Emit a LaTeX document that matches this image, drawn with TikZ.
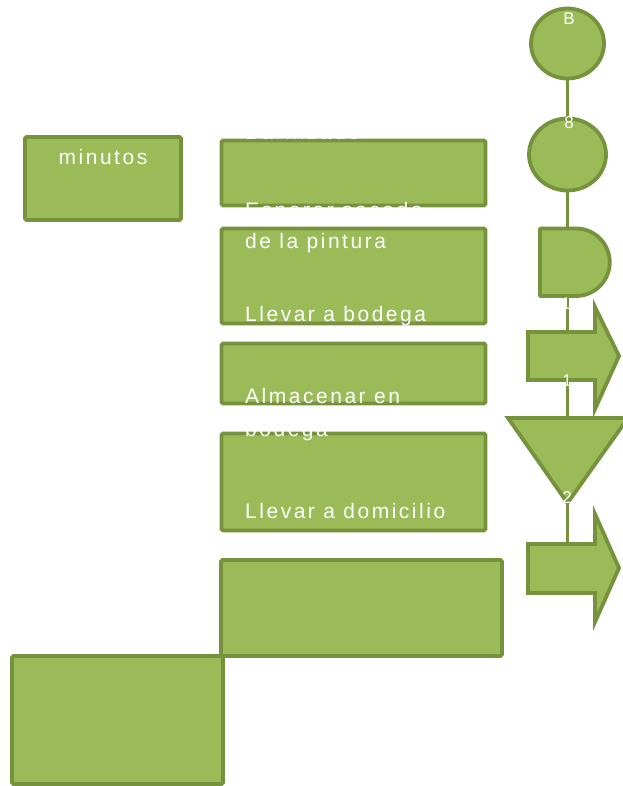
\documentclass[tikz,border=0pt]{standalone}
\usepackage{fontspec}
\setmainfont{Liberation Sans}
\newfontfamily\spaced[LetterSpace=12]{Liberation Sans}
\usetikzlibrary{shapes.geometric}
\definecolor{ofill}{HTML}{9BBB59}
\definecolor{oline}{HTML}{76923C}
\begin{document}
\begin{tikzpicture}[x=1pt,y=-1pt,
  shp/.style={fill=ofill,draw=oline,line width=3.8pt},
  boxn/.style={shp,rectangle,rounded corners=1.5pt,inner sep=0pt},
  ell/.style={shp,ellipse,inner sep=0pt},
  conn/.style={draw=oline,line width=3.8pt},
  txt/.style={text=white,font=\fontsize{21}{24}\selectfont\spaced,inner sep=0pt,anchor=base west},
  lbl/.style={text=white,font=\fontsize{17}{20}\selectfont,inner sep=0pt,anchor=base}]
\useasboundingbox (0,0) rectangle (622,786);
% boxes
\node[boxn,minimum width=156pt,minimum height=83pt] (b1) at (103,178.5) {};
\node[boxn,minimum width=264pt,minimum height=65pt] (b2) at (353.5,173) {};
\node[boxn,minimum width=264pt,minimum height=95pt] (b3) at (353.5,276) {};
\node[boxn,minimum width=264pt,minimum height=60pt] (b4) at (353.5,373.5) {};
\node[boxn,minimum width=264pt,minimum height=97pt] (b5) at (353.5,482) {};
\node[boxn,minimum width=281pt,minimum height=96pt] (b6) at (361.5,608) {};
\node[boxn,minimum width=211pt,minimum height=128pt] (b7) at (117.5,720) {};
% right column connectors
\coordinate (dTop) at (567.5,228.5);
\coordinate (dBot) at (567.5,296);
\coordinate (a1Top) at (567.5,332);
\coordinate (a1Bot) at (567.5,380);
\coordinate (tTop) at (567.5,418);
\coordinate (tApex) at (567.5,503);
\coordinate (a2Top) at (567.5,544);
\node[ell,minimum width=73pt,minimum height=70pt] (cB) at (567.5,43.5) {};
\node[ell,minimum width=77pt,minimum height=72pt] (c8) at (567.5,154.5) {};
\draw[conn] (cB.south) -- (c8.north);
\draw[conn] (c8.south) -- (dTop);
\draw[conn] (dBot) -- (a1Top);
\draw[conn] (a1Bot) -- (tTop);
\draw[conn] (tApex) -- (a2Top);
% delay shape
\draw[shp,line join=round] (540,228.5) -- (576,228.5) arc[start angle=-90,end angle=90,radius=33.75] -- (540,296) -- cycle;
% arrow 1
\draw[shp,line join=miter] (528,332) -- (595,332) -- (595,307) -- (619,356) -- (595,409) -- (595,380) -- (528,380) -- cycle;
% triangle
\draw[shp,line join=miter] (508,418) -- (628,418) -- (tApex) -- cycle;
% arrow 2
\draw[shp,line join=miter] (528,544) -- (595,544) -- (595,514) -- (619,568) -- (595,622) -- (595,593) -- (528,593) -- cycle;
% texts
\node[txt,anchor=base] (t0) at (103,134) {320};
\node[txt,anchor=base] (t1) at (103,165) {minutos};
\node[txt] (t2) at (245,140) {Barnizado};
\node[txt] (t3) at (245,218) {Esperar secado};
\node[txt] (t4) at (245,248) {de la pintura};
\node[txt] (t5) at (245,321) {Llevar a bodega};
\node[txt] (t6) at (245,403) {Almacenar en};
\node[txt] (t7) at (245,436) {bodega};
\node[txt] (t8) at (245,518) {Llevar a domicilio};
\node[lbl] (lB) at (569,25) {B};
\node[lbl] (l8) at (569,129) {8};
\node[lbl] (l1) at (566,309) {1};
\node[lbl] (l1b) at (567,386) {1};
\node[lbl] (l2) at (567,503) {2};
\end{tikzpicture}
\end{document}
